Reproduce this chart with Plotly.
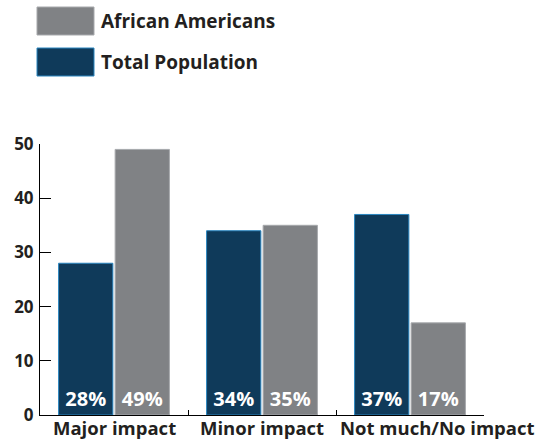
import plotly.graph_objects as go

categories = ["Major impact", "Minor impact", "Not much/No impact"]
total_population = [28, 34, 37]
african_americans = [49, 35, 17]
y_ticks = [0, 10, 20, 30, 40, 50]

NAVY = "#0f3a5a"
NAVY_EDGE = "#2a86c0"
GRAY = "#808285"
GRAY_EDGE = "#a7a9ac"
TEXT = "#231f20"
FONT = "Open Sans"

fig = go.Figure()
fig.add_trace(go.Bar(
    x=categories, y=total_population, name="Total Population",
    marker=dict(color=NAVY, line=dict(color=NAVY_EDGE, width=1)),
    text=[f"{v}%" for v in total_population], textposition="inside",
    insidetextanchor="start",
    textfont=dict(color="white", size=20, family=FONT, weight="bold"),
    showlegend=False,
))
fig.add_trace(go.Bar(
    x=categories, y=african_americans, name="African Americans",
    marker=dict(color=GRAY, line=dict(color=GRAY_EDGE, width=1)),
    text=[f"{v}%" for v in african_americans], textposition="inside",
    insidetextanchor="start",
    textfont=dict(color="white", size=20, family=FONT, weight="bold"),
    showlegend=False,
))

W, H = 537, 439
ml, mr, mt, mb = 40, 53, 144, 24
pw, ph = W - ml - mr, H - mt - mb
def px_to_paper_x(px):
    return (px - ml) / pw
def px_to_paper_y(py):
    return (H - mb - py) / ph

# custom legend (large swatches)
legend_items = [("African Americans", GRAY, GRAY_EDGE), ("Total Population", NAVY, NAVY_EDGE)]
for i, (name, col, edge) in enumerate(legend_items):
    y0 = 7 + i * 41
    fig.add_shape(type="rect", xref="paper", yref="paper",
                  x0=px_to_paper_x(37), x1=px_to_paper_x(94),
                  y0=px_to_paper_y(y0 + 28), y1=px_to_paper_y(y0),
                  fillcolor=col, line=dict(color=edge, width=1))
    fig.add_annotation(xref="paper", yref="paper",
                       x=px_to_paper_x(99), y=px_to_paper_y(y0 + 14),
                       xanchor="left", yanchor="middle", showarrow=False,
                       text=name, font=dict(size=19, color=TEXT, family=FONT, weight="bold"))

# category labels (third one nudged right as in the source)
label_shift = [0, 0, 27]
for cat, sh in zip(categories, label_shift):
    fig.add_annotation(xref="x", yref="paper", x=cat, y=0, yanchor="top",
                       xanchor="center", xshift=sh, yshift=2, showarrow=False,
                       text=cat, font=dict(size=18.5, color=TEXT, family=FONT, weight="bold"))

fig.update_layout(
    width=W, height=H,
    margin=dict(l=ml, r=mr, t=mt, b=mb, autoexpand=False),
    plot_bgcolor="white", paper_bgcolor="white",
    barmode="group", bargap=0.236, bargroupgap=0.04,
    font=dict(family=FONT, color=TEXT),
    uniformtext=dict(minsize=8, mode="show"),
)
fig.update_yaxes(
    range=[0, 50], tickvals=y_ticks, showgrid=False, zeroline=False,
    showline=True, linecolor="black", linewidth=1,
    ticks="inside", ticklen=11, tickcolor="black", tickwidth=1,
    tickfont=dict(size=17, family=FONT, color=TEXT, weight="bold"),
    ticklabelstandoff=2, automargin=False,
)
fig.update_xaxes(
    range=[-0.5, len(categories) - 0.5],
    showgrid=False, zeroline=False, showline=True, linecolor="black", linewidth=1,
    ticks="inside", ticklen=5, tickcolor="black", tickson="boundaries",
    showticklabels=False, automargin=False,
)
fig.write_html("out.html", config={"displayModeBar": False},
               post_script="document.body.style.margin='0';document.body.style.overflow='hidden';")
